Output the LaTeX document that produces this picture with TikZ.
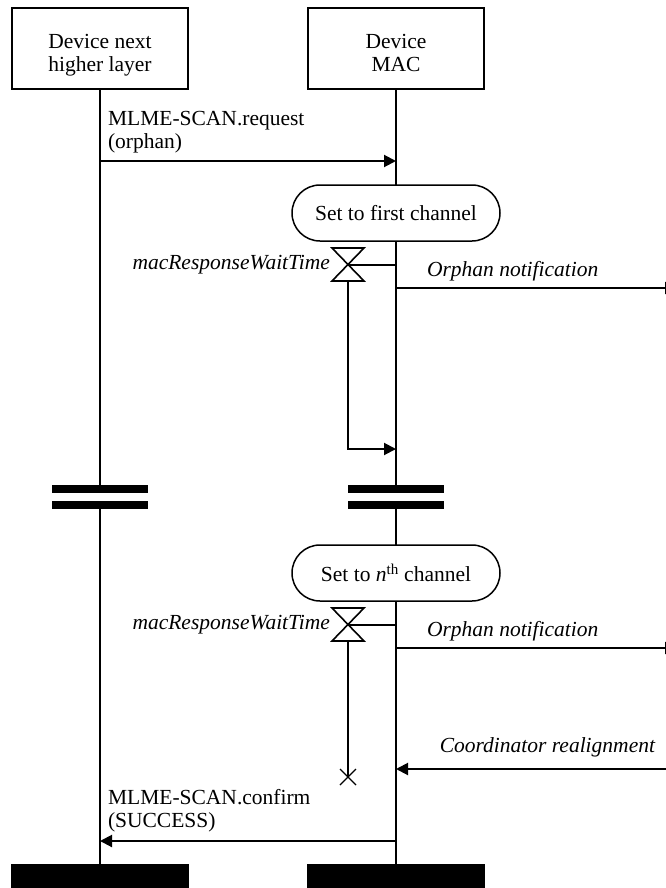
\documentclass[tikz,border=0pt]{standalone}
\usepackage{fontspec}
\setmainfont{Liberation Serif}
\usetikzlibrary{arrows.meta,calc}
\begin{document}
\begin{tikzpicture}[x=1pt,y=-1pt,
  every node/.style={font=\fontsize{21.5}{23}\selectfont, inner sep=0pt, outer sep=0pt},
  entity/.style={draw, line width=2pt, minimum width=176pt, minimum height=81pt},
  etext/.style={align=center, anchor=base},
  state/.style={draw, line width=1.5pt, rounded corners=28pt, minimum width=208pt, minimum height=56pt},
  life/.style={line width=2pt},
  msg/.style={line width=2pt, -{Triangle[length=12pt,width=12pt]}},
  brk/.style={fill=black},
  lbl/.style={anchor=base west, align=left},
  ilbl/.style={font=\fontsize{21.5}{23}\selectfont\itshape},
  tmr/.style={line width=1.6pt},
]
\useasboundingbox (0,0) rectangle (666,888);

% entities
\node[entity] (nhl) at (100,48.5) {};
\node[entity] (mac) at (396,48.5) {};
\node[etext] (nhlT) at (100,72) {Device next\\higher layer};
\node[etext] (macT) at (396,72) {Device\\MAC};

% lifeline coordinates
\coordinate (nhlB1) at (100,485);
\coordinate (nhlB2) at (100,509);
\coordinate (macB1) at (396,485);
\coordinate (macB2) at (396,509);
\coordinate (nhlEnd) at (100,864);
\coordinate (macEnd) at (396,864);

\draw[life] (nhl.south) -- (nhlB1);
\draw[life] (mac.south) -- (macB1);
\draw[life] (nhlB2) -- (nhlEnd);
\draw[life] (macB2) -- (macEnd);

% break symbols
\fill[brk] (52,485) rectangle (148,493);
\fill[brk] (52,501) rectangle (148,509);
\fill[brk] (348,485) rectangle (444,493);
\fill[brk] (348,501) rectangle (444,509);

% end bars
\fill[brk] (11,864) rectangle (189,888);
\fill[brk] (307,864) rectangle (485,888);

% request
\coordinate (reqS) at (100,161);
\coordinate (reqE) at (396,161);
\node[lbl] (reqL) at (108,148) {MLME-SCAN.request\\(orphan)};
\draw[msg] (reqS) -- (reqE);

% state 1
\node[state, fill=white] (st1) at (396,213) {Set to first channel};

% timer 1
\coordinate (t1) at (348,264.5);
\coordinate (t1b) at (348,281);
\coordinate (t1m) at (396,264.5);
\draw[tmr] (332,248) -- (364,248) -- (332,281) -- (364,281) -- cycle;
\draw[life] (t1) -- (t1m);
\node[ilbl, anchor=east] (t1L) at (330,265) {macResponseWaitTime};
\coordinate (t1e) at (348,449);
\coordinate (t1a) at (396,449);
\draw[life, -{Triangle[length=12pt,width=12pt]}] (t1b) -- (t1e) -- (t1a);

% orphan notification 1
\coordinate (on1s) at (396,288);
\coordinate (on1e) at (677,288);
\node[ilbl, anchor=base west] (on1L) at (427,276) {Orphan notification};
\draw[msg] (on1s) -- (on1e);

% state 2
\node[state, fill=white] (st2) at (396,573) {Set to \textit{n}\textsuperscript{th} channel};

% timer 2
\coordinate (t2) at (348,624.5);
\coordinate (t2b) at (348,641);
\coordinate (t2m) at (396,624.5);
\draw[tmr] (332,608) -- (364,608) -- (332,641) -- (364,641) -- cycle;
\draw[life] (t2) -- (t2m);
\node[ilbl, anchor=east] (t2L) at (330,625) {macResponseWaitTime};
\coordinate (t2x) at (348,777);
\draw[life] (t2b) -- (t2x);
\draw[line width=1.2pt] ($(t2x)+(-8,-8)$) -- ($(t2x)+(8,8)$);
\draw[line width=1.2pt] ($(t2x)+(-8,8)$) -- ($(t2x)+(8,-8)$);

% orphan notification 2
\coordinate (on2s) at (396,648);
\coordinate (on2e) at (677,648);
\node[ilbl, anchor=base west] (on2L) at (427,636) {Orphan notification};
\draw[msg] (on2s) -- (on2e);

% coordinator realignment
\coordinate (crS) at (670,769);
\coordinate (crE) at (396,769);
\node[ilbl, anchor=base east] (crL) at (655,752) {Coordinator realignment};
\draw[msg] (crS) -- (crE);

% confirm
\coordinate (cfS) at (396,841);
\coordinate (cfE) at (100,841);
\node[lbl] (cfL) at (108,827) {MLME-SCAN.confirm\\(SUCCESS)};
\draw[msg] (cfS) -- (cfE);
\end{tikzpicture}
\end{document}
